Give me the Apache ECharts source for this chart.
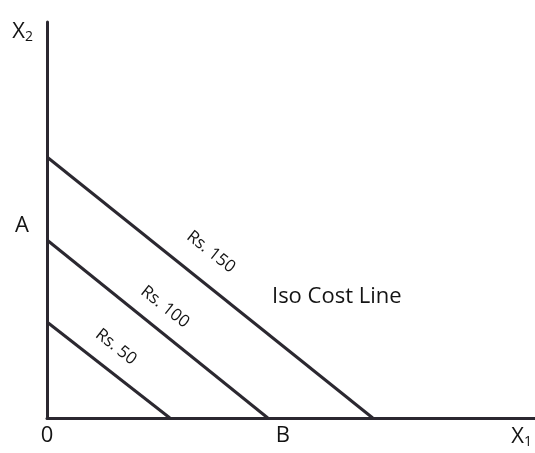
<!DOCTYPE html>
<html>
<head>
<meta charset="utf-8">
<style>html,body{margin:0;padding:0;background:#fff}#c{width:535px;height:453px}</style>
<script src="https://cdn.jsdelivr.net/npm/echarts@6/dist/echarts.min.js"></script>
</head>
<body>
<div id="c"></div>
<script>
// Iso-cost lines: [x-intercept, y-intercept] in chart units
const lineNames = ['Rs. 50', 'Rs. 100', 'Rs. 150'];
const xIntercepts = [123, 221, 326];
const yIntercepts = [96, 178, 261];
// Line label anchor points (chart units)
const lineLabelX = [69, 118, 164];
const lineLabelY = [71, 111, 166];
const titleText = 'Iso Cost Line';
const titlePoint = [290, 121];
// Axis tick labels
const xTickValues = [0, 236, 475];
const xTickLabels = ['0', 'B', 'X1'];
const yTickValues = [192];
const yTickLabels = ['A'];

const FONT = 'Open Sans';
const INK = '#2b2830';
const TXT = '#141414';

const chart = echarts.init(document.getElementById('c'));
const lineSeries = lineNames.map((n, i) => ({
  name: n, type: 'line', symbol: 'none', silent: true,
  data: [[0, yIntercepts[i]], [xIntercepts[i], 0]],
  lineStyle: { color: INK, width: 3 }
}));
const rich = {
  b: { fontSize: 22, fontFamily: FONT, color: TXT },
  s: { fontSize: 14, fontFamily: FONT, color: TXT, padding: [10, 0, 0, 0] }
};
function fmtSub(t) {
  const m = t.match(/^X(\d)$/);
  return m ? '{b|X}{s|' + m[1] + '}' : '{b|' + t + '}';
}
chart.setOption({
  animation: false,
  grid: { left: 47, right: 0, top: 22, bottom: 35, containLabel: false },
  xAxis: {
    type: 'value', min: 0, max: 488,
    axisLine: { show: true, lineStyle: { color: INK, width: 3 } },
    axisTick: { show: false },
    splitLine: { show: false },
    axisLabel: {
      customValues: xTickValues, margin: 7, showMinLabel: true, showMaxLabel: true,
      formatter: v => fmtSub(xTickLabels[xTickValues.indexOf(v)] || ''),
      rich: rich
    }
  },
  yAxis: {
    type: 'value', min: 0, max: 396,
    name: '{b|X}{s|2}', nameLocation: 'end', nameGap: -10,
    nameTextStyle: { align: 'right', verticalAlign: 'middle', padding: [0, 14, 0, 0], rich: rich },
    axisLine: { show: true, lineStyle: { color: INK, width: 3 } },
    axisTick: { show: false },
    splitLine: { show: false },
    axisLabel: {
      customValues: yTickValues, margin: 18,
      formatter: v => fmtSub(yTickLabels[yTickValues.indexOf(v)] || ''),
      rich: rich
    }
  },
  series: lineSeries.concat([
    {
      type: 'scatter', symbolSize: 0, silent: true,
      data: lineNames.map((n, i) => ({ value: [lineLabelX[i], lineLabelY[i]], name: n })),
      label: {
        show: true, position: [0, 0], align: 'center', verticalAlign: 'middle', rotate: -38.5,
        formatter: p => p.name, fontFamily: FONT, fontSize: 17, color: TXT,
        textBorderWidth: 0, opacity: 1
      }
    },
    {
      type: 'scatter', symbolSize: 0, silent: true,
      data: [{ value: titlePoint, name: titleText }],
      label: {
        show: true, position: [0, 0], align: 'center', verticalAlign: 'middle',
        formatter: p => p.name, fontFamily: FONT, fontSize: 22, color: TXT,
        textBorderWidth: 0, opacity: 1
      }
    }
  ])
});
</script>
</body>
</html>
